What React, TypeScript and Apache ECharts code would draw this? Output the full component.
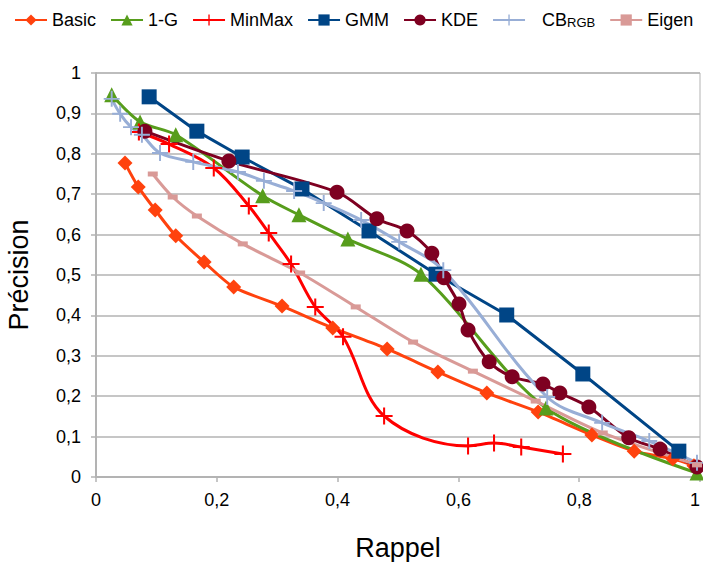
import React, { useEffect, useRef } from "react";
import * as echarts from "echarts";

const basicRecall = [0.048, 0.07, 0.098, 0.132, 0.179, 0.228, 0.308, 0.392, 0.482, 0.566, 0.647, 0.732, 0.821, 0.891, 0.955, 0.99];
const basicPrecision = [0.777, 0.718, 0.661, 0.597, 0.532, 0.47, 0.423, 0.369, 0.317, 0.26, 0.208, 0.161, 0.104, 0.064, 0.045, 0.028];

const oneGRecall = [0.026, 0.073, 0.132, 0.276, 0.336, 0.417, 0.538, 0.745, 0.995];
const oneGPrecision = [0.946, 0.879, 0.847, 0.696, 0.649, 0.589, 0.502, 0.171, 0.01];

const minMaxRecall = [0.071, 0.121, 0.195, 0.253, 0.286, 0.323, 0.363, 0.409, 0.477, 0.616, 0.659, 0.704, 0.773];
const minMaxPrecision = [0.854, 0.824, 0.765, 0.671, 0.604, 0.527, 0.421, 0.347, 0.151, 0.077, 0.084, 0.074, 0.057];

const gmmRecall = [0.088, 0.167, 0.242, 0.341, 0.452, 0.563, 0.68, 0.806, 0.965];
const gmmPrecision = [0.941, 0.856, 0.792, 0.713, 0.609, 0.502, 0.401, 0.255, 0.064];

const kdeRecall = [0.081, 0.22, 0.399, 0.465, 0.515, 0.556, 0.576, 0.601, 0.616, 0.651, 0.689, 0.74, 0.768, 0.816, 0.882, 0.934, 0.995];
const kdePrecision = [0.856, 0.782, 0.705, 0.639, 0.609, 0.554, 0.493, 0.428, 0.364, 0.285, 0.248, 0.23, 0.208, 0.173, 0.097, 0.069, 0.025];

const cbRecall = [0.026, 0.04, 0.058, 0.076, 0.106, 0.161, 0.235, 0.278, 0.328, 0.377, 0.439, 0.502, 0.575, 0.747, 0.838, 0.916, 0.995];
const cbPrecision = [0.936, 0.899, 0.866, 0.847, 0.802, 0.78, 0.755, 0.733, 0.708, 0.678, 0.636, 0.582, 0.512, 0.198, 0.134, 0.089, 0.035];

const eigenRecall = [0.094, 0.127, 0.167, 0.243, 0.338, 0.43, 0.525, 0.624, 0.728, 0.839, 0.995];
const eigenPrecision = [0.75, 0.693, 0.646, 0.577, 0.505, 0.421, 0.334, 0.262, 0.188, 0.109, 0.03];

const xTicks = [0, 0.2, 0.4, 0.6, 0.8, 1];
const yTicks = [0, 0.1, 0.2, 0.3, 0.4, 0.5, 0.6, 0.7, 0.8, 0.9, 1];

const zip = (xs: number[], ys: number[]) => xs.map((x, i) => [x, ys[i]]);

const PLUS = "path://M4.4,0h1.2v4.4h4.4v1.2h-4.4v4.4h-1.2v-4.4h-4.4v-1.2h4.4z";
const FONT = "Liberation Sans";

const fmt = (v: number) => String(+v.toFixed(1)).replace(".", ",");

export default function App() {
  const ref = useRef<HTMLDivElement>(null);
  useEffect(() => {
    if (!ref.current) return;
    const chart = echarts.init(ref.current, null, { renderer: "svg" });
    const mk = (name: string, xs: number[], ys: number[], color: string, symbol: string, size: any, smooth: number | boolean, width = 3) => ({
      name,
      type: "line",
      data: zip(xs, ys),
      smooth,
      symbol,
      symbolSize: size,
      showSymbol: true,
      lineStyle: { color, width },
      itemStyle: { color },
      emphasis: { disabled: true },
    });
    chart.setOption({
      animation: false,
      textStyle: { fontFamily: FONT },
      legend: {
        top: 11,
        left: 14,
        right: 0,
        padding: 0,
        itemWidth: 32,
        itemHeight: 14,
        itemGap: 14,
        textStyle: {
          fontSize: 18,
          color: "#000",
          fontFamily: FONT,
          rich: {
            a: { fontSize: 18, fontFamily: FONT, color: "#000", padding: [0, 0, 0, 12] },
            b: { fontSize: 13, fontFamily: FONT, color: "#000", verticalAlign: "bottom", padding: [4, 0, 0, 0] },
          },
        },
        formatter: (name: string) => (name === "CBRGB" ? "{a|CB}{b|RGB}" : name),
        data: ["Basic", "1-G", "MinMax", "GMM", "KDE", "CBRGB", "Eigen"],
      },
      grid: {
        left: 96,
        right: 3,
        top: 73,
        bottom: 85,
        show: true,
        borderColor: "#b3b3b3",
        borderWidth: 1,
        containLabel: false,
        outerBoundsMode: "none",
      },
      xAxis: {
        type: "value",
        min: xTicks[0],
        max: xTicks[xTicks.length - 1],
        interval: 0.2,
        name: "Rappel",
        nameLocation: "middle",
        nameGap: 57,
        nameTextStyle: { fontSize: 27, color: "#000", fontFamily: FONT },
        axisLine: { lineStyle: { color: "#b3b3b3", width: 2 } },
        axisTick: { show: true, length: 5, lineStyle: { color: "#b3b3b3", width: 1.5 } },
        axisLabel: { fontSize: 18, color: "#000", margin: 14, formatter: fmt, fontFamily: FONT, alignMaxLabel: "right" },
        splitLine: { show: false },
      },
      yAxis: {
        type: "value",
        min: yTicks[0],
        max: yTicks[yTicks.length - 1],
        interval: 0.1,
        name: "Précision",
        nameLocation: "middle",
        nameGap: 64,
        nameTextStyle: { fontSize: 27, color: "#000", fontFamily: FONT },
        axisLine: { show: true, lineStyle: { color: "#b3b3b3", width: 2 } },
        axisTick: { show: true, length: 5, lineStyle: { color: "#b3b3b3", width: 1.5 } },
        axisLabel: { fontSize: 18, color: "#000", margin: 15, formatter: fmt, fontFamily: FONT },
        splitLine: { show: true, lineStyle: { color: "#b3b3b3", width: 1.5 } },
      },
      series: [
        mk("Basic", basicRecall, basicPrecision, "#ff420e", "diamond", 15, 0.25),
        mk("1-G", oneGRecall, oneGPrecision, "#579d1c", "triangle", 15, 0.3),
        mk("MinMax", minMaxRecall, minMaxPrecision, "#ff0000", PLUS, 17, 0.35),
        mk("GMM", gmmRecall, gmmPrecision, "#004586", "rect", 15, false),
        mk("KDE", kdeRecall, kdePrecision, "#7e0021", "circle", 15, 0.3),
        mk("CBRGB", cbRecall, cbPrecision, "#98aed6", PLUS, 16, 0.35),
        mk("Eigen", eigenRecall, eigenPrecision, "#d99a97", "rect", [10, 5], 0.3),
      ],
    });
    return () => chart.dispose();
  }, []);
  return <div ref={ref} style={{ width: 703, height: 562, position: "absolute", left: 0, top: 0 }} />;
}
